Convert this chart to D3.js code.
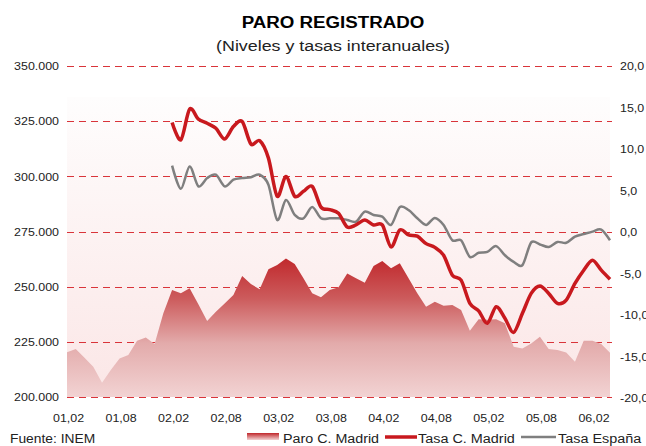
<!DOCTYPE html>
<html>
<head>
<meta charset="utf-8">
<script src="https://cdn.jsdelivr.net/npm/d3@7"></script>
<style>
  body { margin: 0; background: #fff; }
  svg { display: block; font-family: "Liberation Sans", Arial, sans-serif; }
</style>
</head>
<body>
<div id="chart"></div>
<script>
// Data variables
var months = ["01,02","01,03","01,04","01,05","01,06","01,07","01,08","01,09","01,10","01,11","01,12",
  "02,01","02,02","02,03","02,04","02,05","02,06","02,07","02,08","02,09","02,10","02,11","02,12",
  "03,01","03,02","03,03","03,04","03,05","03,06","03,07","03,08","03,09","03,10","03,11","03,12",
  "04,01","04,02","04,03","04,04","04,05","04,06","04,07","04,08","04,09","04,10","04,11","04,12",
  "05,01","05,02","05,03","05,04","05,05","05,06","05,07","05,08","05,09","05,10","05,11","05,12",
  "06,01","06,02","06,03","06,04"]
var tick_labels = ["01,02","01,08","02,02","02,08","03,02","03,08","04,02","04,08","05,02","05,08","06,02"]
var paro_madrid = [220250,221750,217800,213700,206500,212200,217500,219000,225500,227000,224000,
  237900,248500,247000,249250,242000,234400,238600,242400,246200,254800,251200,248800,
  257900,259800,262800,260300,253800,247000,245200,248500,249700,256000,253800,251800,
  259400,261600,258300,260600,253800,247000,240900,243200,241400,241700,239400,230000,
  235200,235000,235200,233400,222800,222000,224300,227300,221700,221300,220200,216000,
  225500,225500,224000,220100]
var tasa_madrid = [null,null,null,null,null,null,null,null,null,null,null,null,
  13.2,11.1,14.8,13.6,13.1,12.5,11.2,12.7,13.3,10.6,11.0,
  8.9,4.3,6.7,4.3,4.9,5.5,3.0,2.7,2.25,0.6,0.85,1.45,
  0.85,0.85,-1.8,0.25,-0.35,-0.5,-1.4,-1.85,-2.8,-5.2,-5.8,-8.6,
  -9.5,-11.0,-9.0,-10.4,-12.1,-9.8,-7.4,-6.5,-7.4,-8.6,-8.2,-6.2,
  -4.6,-3.4,-4.6,-5.7]
var tasa_espana = [null,null,null,null,null,null,null,null,null,null,null,null,
  8.0,5.2,7.9,5.5,6.5,6.9,5.5,6.3,6.5,6.6,6.9,
  5.7,1.45,3.85,2.05,1.65,3.0,1.65,1.65,1.65,1.45,1.25,2.45,
  2.05,1.85,0.85,3.0,2.65,1.65,0.85,1.7,0.85,-1.0,-1.0,-3.0,
  -2.5,-2.4,-1.7,-2.8,-3.6,-4.0,-1.25,-1.5,-1.8,-1.2,-1.3,-0.55,
  -0.25,0.05,0.3,-1.0]
var left_ticks = [200000,225000,250000,275000,300000,325000,350000]
var right_ticks = [-20,-15,-10,-5,0,5,10,15,20]

// Display variables
var total_width = 646, total_height = 446
var plot = {left: 67, right: 610, top: 66, bottom: 397}
var red_colour = "#c8191e"
var grey_colour = "#7f7f7f"
var grid_colour = "#d9343a"
var text_colour = "#222"

var svg = d3.select("#chart").append("svg").attr("width", total_width).attr("height", total_height)
var defs = svg.append("defs")

// Gradients
var bg_grad = defs.append("linearGradient").attr("id", "bg_grad")
    .attr("x1", 0).attr("y1", 0).attr("x2", 0).attr("y2", 1)
bg_grad.append("stop").attr("offset", "0%").attr("stop-color", "#fefdfd")
bg_grad.append("stop").attr("offset", "100%").attr("stop-color", "#fbe6e6")

var area_grad = defs.append("linearGradient").attr("id", "area_grad")
    .attr("gradientUnits", "userSpaceOnUse")
    .attr("x1", 0).attr("y1", 256).attr("x2", 0).attr("y2", 397)
area_grad.append("stop").attr("offset", "0%").attr("stop-color", "#c0262a")
area_grad.append("stop").attr("offset", "30%").attr("stop-color", "#cc5b5c")
area_grad.append("stop").attr("offset", "62%").attr("stop-color", "#e3abab")
area_grad.append("stop").attr("offset", "100%").attr("stop-color", "#f2d3d3")

var leg_grad = defs.append("linearGradient").attr("id", "leg_grad")
    .attr("x1", 0).attr("y1", 0).attr("x2", 0).attr("y2", 1)
leg_grad.append("stop").attr("offset", "0%").attr("stop-color", "#c0262a")
leg_grad.append("stop").attr("offset", "100%").attr("stop-color", "#f2d3d3")

// Scales
var x = d3.scalePoint().domain(months).range([plot.left, plot.right])
var y = d3.scaleLinear().domain([200000, 350000]).range([plot.bottom, plot.top])
var y2 = d3.scaleLinear().domain([-20, 20]).range([plot.bottom + 1, plot.top])

// Plot background
svg.append("rect")
    .attr("x", plot.left).attr("y", 97)
    .attr("width", plot.right - plot.left).attr("height", plot.bottom - 97)
    .attr("fill", "url(#bg_grad)")

// Gridlines (left axis)
svg.append("g").selectAll("line")
    .data(left_ticks)
    .enter().append("line")
    .attr("x1", plot.left).attr("x2", plot.right + 2)
    .attr("y1", d => Math.round(y(d)) + 0.5).attr("y2", d => Math.round(y(d)) + 0.5)
    .attr("stroke", grid_colour).attr("stroke-width", 1)
    .attr("stroke-dasharray", "7,5")

// Area - Paro C. Madrid
var area = d3.area()
    .x((d, i) => x(months[i]))
    .y0(y(200000))
    .y1(d => y(d))
svg.append("path")
    .datum(paro_madrid)
    .attr("d", area)
    .attr("fill", "url(#area_grad)")

// Bottom gridline drawn on top of area
svg.append("line")
    .attr("x1", plot.left).attr("x2", plot.right + 2)
    .attr("y1", Math.round(y(200000)) + 0.5).attr("y2", Math.round(y(200000)) + 0.5)
    .attr("stroke", grid_colour).attr("stroke-dasharray", "7,5")

// Lines - tasas
var line = d3.line()
    .defined(d => d != null)
    .x((d, i) => x(months[i]))
    .y(d => y2(d))
    .curve(d3.curveCardinal.tension(0.1))
svg.append("path")
    .datum(tasa_espana)
    .attr("d", line)
    .attr("fill", "none").attr("stroke", grey_colour).attr("stroke-width", 2.5)
svg.append("path")
    .datum(tasa_madrid)
    .attr("d", line)
    .attr("fill", "none").attr("stroke", red_colour).attr("stroke-width", 3.5)

// Axes
var left_axis = svg.append("g")
    .attr("transform", "translate(" + (plot.left - 8) + ",0)")
    .call(d3.axisLeft(y).tickValues(left_ticks).tickSize(0).tickPadding(0)
        .tickFormat(d => d3.format(",")(d).replace(/,/g, ".")))
var right_axis = svg.append("g")
    .attr("transform", "translate(" + (plot.right + 10) + ",0)")
    .call(d3.axisRight(y2).tickValues(right_ticks).tickSize(0).tickPadding(0)
        .tickFormat(d => d3.format(".1f")(d).replace(".", ",").replace("−", "-")))
var bottom_axis = svg.append("g")
    .attr("transform", "translate(0," + (plot.bottom + 17) + ")")
    .call(d3.axisBottom(x).tickValues(tick_labels).tickSize(0).tickPadding(0))
svg.selectAll(".domain").remove()
svg.selectAll(".tick text")
    .attr("fill", text_colour).attr("data-stretch", 1.08)
    .style("font-size", "11.5px").style("font-family", "'Liberation Sans', Arial, sans-serif")
bottom_axis.selectAll(".tick text").attr("dy", "0.71em").attr("dx", "1")

// Titles
svg.append("text")
    .attr("x", 333).attr("y", 28)
    .attr("text-anchor", "middle").attr("data-stretch", 1.17)
    .style("font-size", "16px").style("font-weight", "bold")
    .attr("fill", "#000")
    .text("PARO REGISTRADO")
svg.append("text")
    .attr("x", 333).attr("y", 51)
    .attr("text-anchor", "middle").attr("data-stretch", 1.15)
    .style("font-size", "15.5px")
    .attr("fill", text_colour)
    .text("(Niveles y tasas interanuales)")

// Source
svg.append("text")
    .attr("x", 10).attr("y", 443).attr("data-stretch", 1.15)
    .style("font-size", "12px").attr("fill", text_colour)
    .text("Fuente: INEM")

// Legend
var legend = svg.append("g").attr("class", "legend")
legend.append("rect")
    .attr("x", 247).attr("y", 433).attr("width", 32).attr("height", 7)
    .attr("fill", "url(#leg_grad)")
legend.append("text").attr("x", 283).attr("y", 443).attr("data-stretch", 1.19)
    .style("font-size", "12px").attr("fill", text_colour).text("Paro C. Madrid")
legend.append("line")
    .attr("x1", 385).attr("x2", 417).attr("y1", 437).attr("y2", 437)
    .attr("stroke", red_colour).attr("stroke-width", 3.5)
legend.append("text").attr("x", 418).attr("y", 443).attr("data-stretch", 1.2)
    .style("font-size", "12px").attr("fill", text_colour).text("Tasa C. Madrid")
legend.append("line")
    .attr("x1", 521).attr("x2", 556).attr("y1", 437).attr("y2", 437)
    .attr("stroke", grey_colour).attr("stroke-width", 2.5)
legend.append("text").attr("x", 558).attr("y", 443).attr("data-stretch", 1.2)
    .style("font-size", "12px").attr("fill", text_colour).text("Tasa España")

// Widen text glyphs to match the original's horizontally stretched rendering
svg.selectAll("text[data-stretch]").each(function() {
    var f = +this.getAttribute("data-stretch")
    var w = this.getComputedTextLength()
    d3.select(this).attr("textLength", w * f).attr("lengthAdjust", "spacingAndGlyphs")
})
</script>
</body>
</html>
